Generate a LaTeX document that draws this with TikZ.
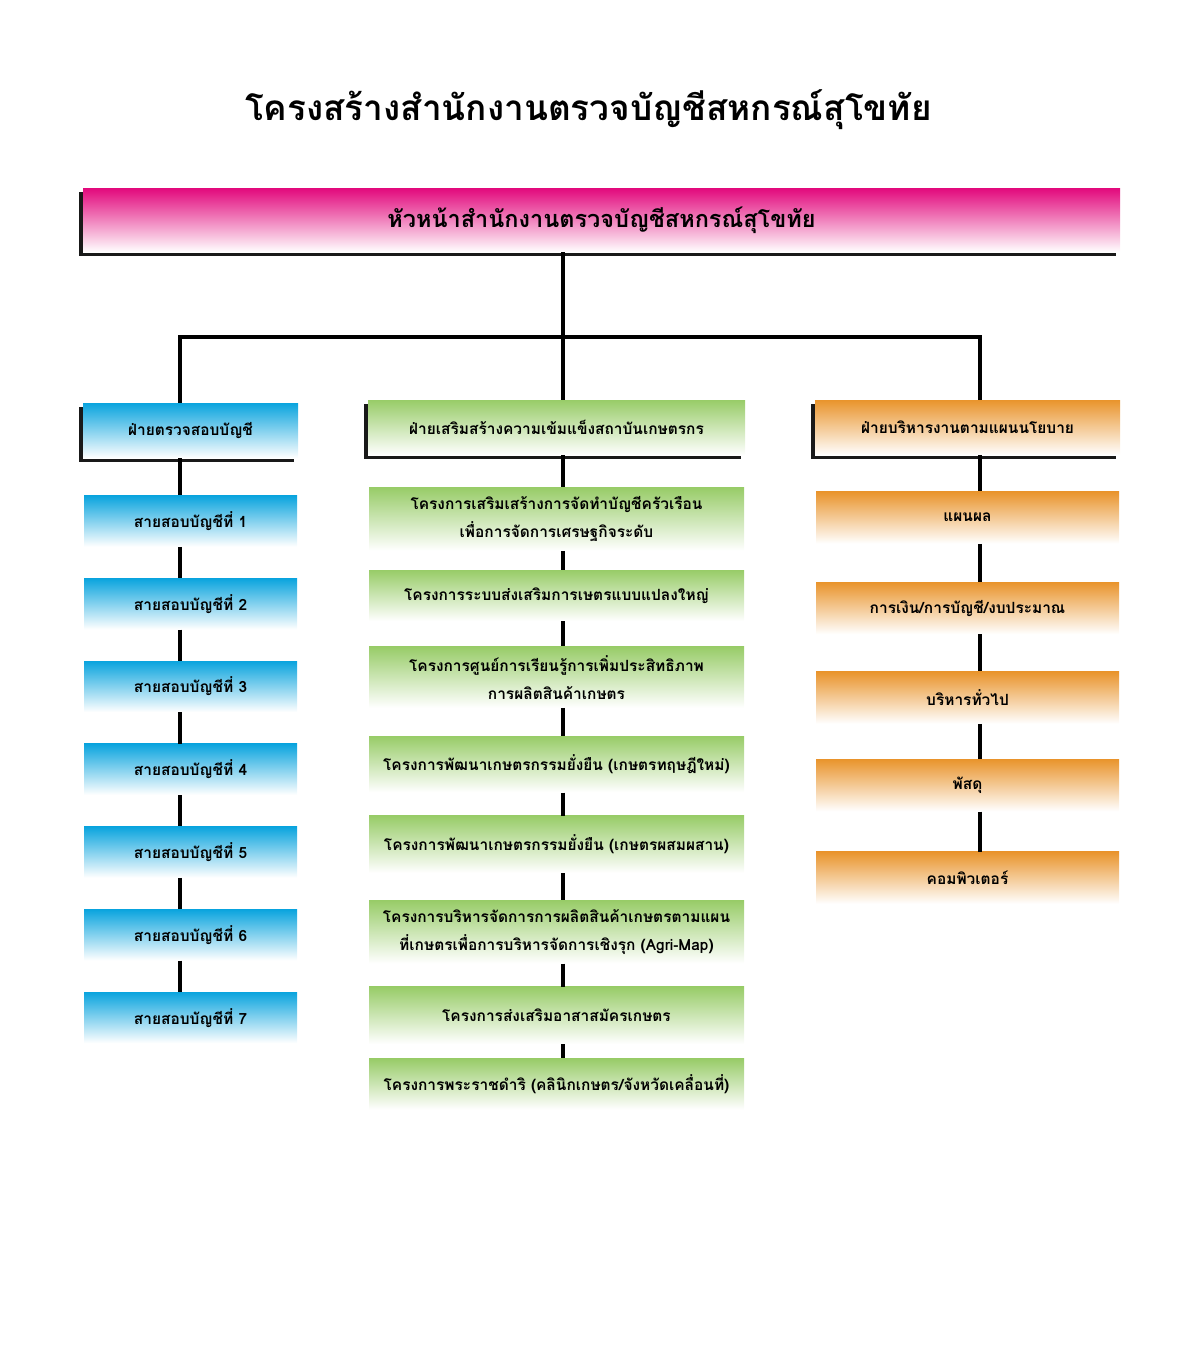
\documentclass[tikz,border=0pt]{standalone}
\usepackage{fontspec}
\newfontfamily\thaifont[Script=Thai]{Loma}
\usetikzlibrary{positioning,shadows}
\definecolor{headpink}{HTML}{E2087C}
\definecolor{auditblue}{HTML}{0AA4DE}
\definecolor{farmgreen}{HTML}{98CC68}
\definecolor{planorange}{HTML}{E9942C}
\begin{document}
\begin{tikzpicture}[
    font=\thaifont\bfseries\fontsize{11}{20}\selectfont,
    link/.style={line width=3pt},
    unit/.style={rectangle,inner sep=1pt,align=center,top color=#1,bottom color=white,minimum height=1.275cm},
    headunit/.style={unit=#1,minimum height=1.375cm,drop shadow={shadow xshift=-2.5pt,shadow yshift=-2.5pt,opacity=.9,fill=black}},
    lunit/.style={unit=auditblue,minimum width=5.325cm},
    munit/.style={unit=farmgreen,minimum width=9.375cm},
    runit/.style={unit=planorange,minimum width=7.575cm,minimum height=1.3cm}
  ]
  \useasboundingbox (0,0) rectangle (29.95,-34.2);

  \node (title) at (14.71,-2.75) {\fontsize{25}{30}\selectfont โครงสร้างสำนักงานตรวจบัญชีสหกรณ์สุโขทัย};
  \node [headunit=headpink,minimum width=25.925cm,minimum height=1.6cm,font=\thaifont\bfseries\fontsize{16.7}{20}\selectfont] (h) at (15.0375,-5.5) {หัวหน้าสำนักงานตรวจบัญชีสหกรณ์สุโขทัย};

  \coordinate (lx) at (4.5,-8.425);
  \coordinate (mx) at (14.075,-8.425);
  \coordinate (rx) at (24.5,-8.425);

  \node [headunit=auditblue,minimum width=5.375cm] (a) at (4.7625,-10.7625) {ฝ่ายตรวจสอบบัญชี};
  \node [headunit=farmgreen,minimum width=9.425cm] (b) at (13.9125,-10.6875) {ฝ่ายเสริมสร้างความเข้มแข็งสถาบันเกษตรกร};
  \node [headunit=planorange,minimum width=7.625cm] (c) at (24.1875,-10.6875) {ฝ่ายบริหารงานตามแผนนโยบาย};

  % audit lines
  \node [lunit,below=0.925cm of a] (a1) {สายสอบบัญชีที่ 1};
  \foreach \i [count=\j from 2] in {1,...,6}
    \node [lunit,below=0.78cm of a\i] (a\j) {สายสอบบัญชีที่ \j};

  % projects
  \node [munit,below=0.8cm of b,minimum height=1.575cm] (b1) {โครงการเสริมเสร้างการจัดทำบัญชีครัวเรือน\\เพื่อการจัดการเศรษฐกิจระดับ};
  \node [munit,below=0.475cm of b1] (b2) {โครงการระบบส่งเสริมการเษตรแบบแปลงใหญ่};
  \node [munit,below=0.625cm of b2,minimum height=1.525cm] (b3) {โครงการศูนย์การเรียนรู้การเพิ่มประสิทธิภาพ\\การผลิตสินค้าเกษตร};
  \node [munit,below=0.7cm of b3,minimum height=1.4cm] (b4) {โครงการพัฒนาเกษตรกรรมยั่งยืน (เกษตรทฤษฎีใหม่)};
  \node [munit,below=0.575cm of b4,minimum height=1.425cm] (b5) {โครงการพัฒนาเกษตรกรรมยั่งยืน (เกษตรผสมผสาน)};
  \node [munit,below=0.675cm of b5,minimum height=1.575cm] (b6) {โครงการบริหารจัดการการผลิตสินค้าเกษตรตามแผน\\ที่เกษตรเพื่อการบริหารจัดการเชิงรุก (Agri-Map)};
  \node [munit,below=0.575cm of b6,minimum height=1.425cm] (b7) {โครงการส่งเสริมอาสาสมัครเกษตร};
  \node [munit,below=0.35cm of b7] (b8) {โครงการพระราชดำริ (คลินิกเกษตร/จังหวัดเคลื่อนที่)};

  % policy units
  \node [runit,below=0.9cm of c] (c1) {แผนผล};
  \node [runit,below=0.95cm of c1] (c2) {การเงิน/การบัญชี/งบประมาณ};
  \node [runit,below=0.925cm of c2] (c3) {บริหารทั่วไป};
  \node [runit,below=0.875cm of c3] (c4) {พัสดุ};
  \node [runit,below=1cm of c4] (c5) {คอมพิวเตอร์};

  \draw [link] (h.south -| mx) -- (mx);
  \draw [link] (a.north -| lx) |- (rx) -- (c.north -| rx);
  \draw [link] (mx) -- (b.north -| mx);

  \draw [link] (a.south -| lx) -- (a1.north -| lx);
  \foreach \i [count=\j from 2] in {1,...,6}
    \draw [link] (a\i.south -| lx) -- (a\j.north -| lx);
  \draw [link] (b.south -| mx) -- (b1.north -| mx);
  \foreach \i [count=\j from 2] in {1,...,7}
    \draw [link] (b\i.south -| mx) -- (b\j.north -| mx);
  \draw [link] (c.south -| rx) -- (c1.north -| rx);
  \foreach \i [count=\j from 2] in {1,...,4}
    \draw [link] (c\i.south -| rx) -- (c\j.north -| rx);
\end{tikzpicture}
\end{document}
